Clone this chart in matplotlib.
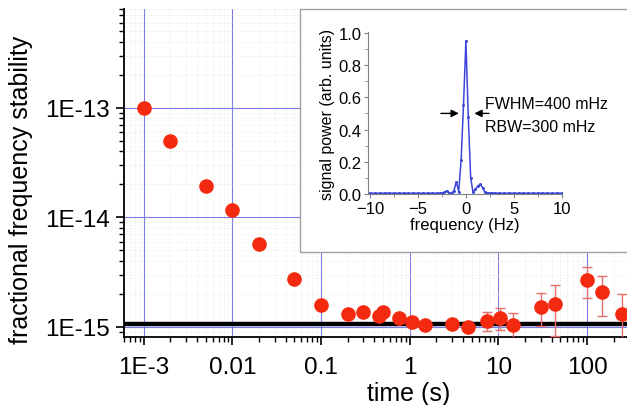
import numpy as np
import matplotlib.pyplot as plt
from matplotlib.patches import Rectangle
from matplotlib.ticker import LogLocator, FixedLocator, MultipleLocator, NullFormatter

plt.rcParams['font.family'] = ['Liberation Sans', 'DejaVu Sans']

# Allan deviation data
tau = [1e-3, 2e-3, 5e-3, 0.01, 0.02, 0.05, 0.1, 0.2, 0.3, 0.45, 0.5, 0.75,
       1.06, 1.5, 3.0, 4.5, 7.5, 10.5, 14.8, 30, 44, 100, 149, 245]
sigma = [1.0e-13, 5.0e-14, 1.95e-14, 1.18e-14, 5.75e-15, 2.74e-15, 1.59e-15,
         1.31e-15, 1.38e-15, 1.25e-15, 1.36e-15, 1.2e-15, 1.12e-15, 1.04e-15,
         1.06e-15, 1.0e-15, 1.14e-15, 1.21e-15, 1.04e-15, 1.53e-15, 1.61e-15,
         2.67e-15, 2.07e-15, 1.32e-15]
sigma_err = [0, 0, 0, 0, 0, 0, 0, 0, 0, 0, 0, 0, 0, 0, 0, 0,
             0.22e-15, 0.27e-15, 0.30e-15, 0.50e-15, 0.79e-15,
             0.83e-15, 0.82e-15, 0.67e-15]
floor_level = 1.06e-15

xticks = [1e-3, 0.01, 0.1, 1, 10, 100]
xticklabels = ['1E-3', '0.01', '0.1', '1', '10', '100']
yticks = [1e-15, 1e-14, 1e-13]
yticklabels = ['1E-15', '1E-14', '1E-13']

# beat note spectrum (inset)
freq = [-10, -9.5, -9, -8.5, -8, -7.5, -7, -6.5, -6, -5.5, -5, -4.5, -4, -3.5,
        -3.0, -2.75, -2.5, -2.25, -2.0, -1.75, -1.5, -1.25, -1.0, -0.75, -0.5,
        -0.25, 0.0, 0.25, 0.5, 0.75, 1.0, 1.25, 1.5, 1.75, 2.0, 2.25, 2.5,
        2.75, 3.0, 3.5, 4, 4.5, 5, 5.5, 6, 6.5, 7, 7.5, 8, 8.5, 9, 9.5, 10]
power = [0.005, 0.005, 0.005, 0.005, 0.005, 0.005, 0.005, 0.005, 0.005, 0.005,
         0.005, 0.005, 0.005, 0.005,
         0.005, 0.005, 0.005, 0.01, 0.02, 0.008, 0.005, 0.02, 0.075, 0.015, 0.21,
         0.55, 0.95, 0.48, 0.1, 0.01, 0.03, 0.05, 0.06, 0.04, 0.01, 0.008, 0.005,
         0.006, 0.005, 0.005, 0.005, 0.005, 0.005, 0.005, 0.005, 0.005, 0.005,
         0.005, 0.005, 0.005, 0.005, 0.005, 0.005]

fig = plt.figure(figsize=(6.27, 4.06), dpi=100)
ax = fig.add_axes([0.1978, 0.1675, 0.8022, 0.808])

ax.set_xscale('log')
ax.set_yscale('log')
ax.set_xlim(6.0e-4, 282)
ax.set_ylim(8.1e-16, 8.0e-13)

ax.grid(True, which='minor', color='#e4ece4', linestyle=':', linewidth=0.7)
ax.grid(True, which='major', color='#7b7bea', linestyle='-', linewidth=0.8)
ax.set_axisbelow(True)

ax.axhline(floor_level, color='black', linewidth=3.2, zorder=3)

ax.errorbar(tau, sigma, yerr=sigma_err, fmt='o', color='#f42a10',
            markersize=9.5, ecolor='#e8706a', elinewidth=1.0, capsize=3.5,
            capthick=1.0, zorder=4, clip_on=True)

ax.xaxis.set_major_locator(FixedLocator(xticks))
ax.set_xticklabels(xticklabels)
ax.xaxis.set_minor_locator(LogLocator(base=10, subs=np.arange(2, 10), numticks=20))
ax.xaxis.set_minor_formatter(NullFormatter())
ax.yaxis.set_major_locator(FixedLocator(yticks))
ax.set_yticklabels(yticklabels)
ax.yaxis.set_minor_locator(LogLocator(base=10, subs=np.arange(2, 10), numticks=20))
ax.yaxis.set_minor_formatter(NullFormatter())

ax.tick_params(which='major', direction='out', length=6, width=1.2, labelsize=17.5)
ax.tick_params(axis='x', which='major', pad=8)
ax.tick_params(axis='y', which='major', pad=4)
ax.tick_params(which='minor', direction='out', length=3.5, width=1.0)
for s in ['top', 'right']:
    ax.spines[s].set_visible(False)
for s in ['left', 'bottom']:
    ax.spines[s].set_linewidth(1.3)

ax.set_xlabel('time (s)', fontsize=18)
ax.set_ylabel('fractional frequency stability', fontsize=18)
ax.xaxis.set_label_coords(0.566, -0.134)
ax.yaxis.set_label_coords(-0.181, 0.45)

# inset box
box = Rectangle((300 / 627, (406 - 253) / 406), 1.0, (253 - 10) / 406,
                transform=fig.transFigure, facecolor='white', edgecolor='#a0a0a0',
                linewidth=1.0, zorder=5)
fig.patches.append(box)

ins = fig.add_axes([0.5874, 0.5197, 0.3090, 0.3990], zorder=6)
ins.plot(freq, power, color='#3a44d8', linewidth=1.1, marker='.', markersize=2.2)
ins.set_xlim(-10.2, 10.05)
ins.set_ylim(0, 1.005)
ins.xaxis.set_major_locator(MultipleLocator(5))
ins.xaxis.set_minor_locator(MultipleLocator(2.5))
ins.yaxis.set_major_locator(MultipleLocator(0.2))
ins.yaxis.set_minor_locator(MultipleLocator(0.1))
ins.yaxis.set_major_formatter(plt.FormatStrFormatter('%.1f'))
ins.tick_params(which='both', direction='out', color='#808080', labelsize=12, pad=2)
ins.tick_params(which='major', length=3)
ins.tick_params(which='minor', length=2)
for s in ['top', 'right']:
    ins.spines[s].set_visible(False)
for s in ['left', 'bottom']:
    ins.spines[s].set_color('#808080')
ins.patch.set_alpha(0)
ins.set_xlabel('frequency (Hz)', fontsize=12, labelpad=1)
ins.set_ylabel('signal power (arb. units)', fontsize=11.5, labelpad=2)

ins.annotate('', xy=(-0.45, 0.5), xytext=(-2.9, 0.5),
             arrowprops=dict(arrowstyle='-|>', color='black', lw=1.0, mutation_scale=11),
             annotation_clip=False)
ins.annotate('', xy=(0.6, 0.5), xytext=(2.7, 0.5),
             arrowprops=dict(arrowstyle='-|>', color='black', lw=1.0, mutation_scale=11),
             annotation_clip=False)
ins.text(1.95, 0.56, 'FWHM=400 mHz', fontsize=11.5, va='center', ha='left')
ins.text(1.95, 0.42, 'RBW=300 mHz', fontsize=11.5, va='center', ha='left')

fig.savefig('out.png', dpi=100)
